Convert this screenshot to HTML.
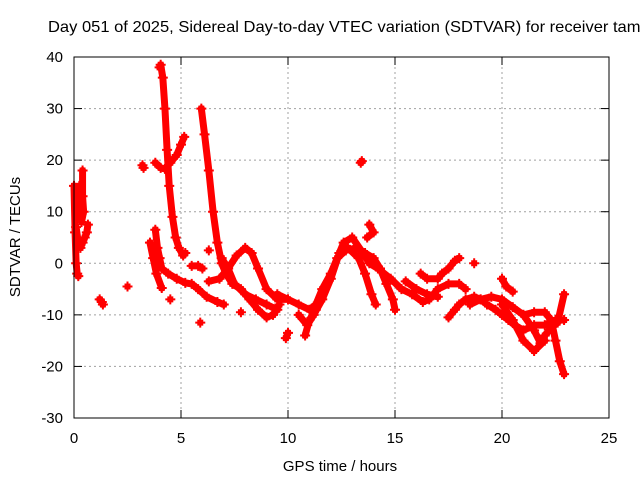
<!DOCTYPE html>
<html><head><meta charset="utf-8"><style>
body{margin:0;background:#fff}
svg{display:block;font-family:"Liberation Sans",sans-serif}
</style></head><body>
<svg id="chart" width="640" height="480" xmlns="http://www.w3.org/2000/svg">
<rect width="640" height="480" fill="#fff"/>
<text x="48" y="32" font-size="16" textLength="598" lengthAdjust="spacingAndGlyphs">Day 051 of 2025, Sidereal Day-to-day VTEC variation (SDTVAR) for receiver tamr</text>
<text x="340" y="471" text-anchor="middle" font-size="15">GPS time / hours</text>
<text transform="translate(20,237) rotate(-90)" text-anchor="middle" font-size="15">SDTVAR / TECUs</text>
<g id="grid"></g><g id="ticks"></g><g id="marks"></g>
<rect x="74" y="57" width="535" height="361" fill="none" stroke="#000" stroke-width="1"/>
</svg>
<script>
const xTicks=[0,5,10,15,20,25];
const yTicks=[40,30,20,10,0,-10,-20,-30];
const tracks=[
[[0,15],[0.05,6],[0.1,0],[0.15,-2],[0.2,-2.5]],
[[0.1,7],[0.2,4],[0.3,3],[0.4,4],[0.5,5],[0.6,6],[0.65,7.5]],
[[0.4,18],[0.4,13],[0.45,10],[0.35,8],[0.3,12],[0.25,15]],
[[1.2,-7],[1.3,-7.5],[1.35,-8]],
[[2.5,-4.5]],
[[3.2,19],[3.25,18.5]],
[[4.0,38],[4.05,38.5],[4.15,36],[4.25,30],[4.35,22],[4.45,15],[4.6,9],[4.75,5],[4.9,3],[5.1,1.5],[5.2,2]],
[[3.8,19.5],[4.05,18.5],[4.25,18.3],[4.5,19.5],[4.8,21],[5.0,23],[5.15,24.5]],
[[3.55,4],[3.7,1],[3.85,-2],[4.1,-4.8]],
[[3.8,6.5],[3.9,3],[4.0,1],[4.1,-1],[4.4,-2],[4.8,-3],[5.2,-3.8],[5.5,-4],[5.8,-5],[6.2,-6.5],[6.7,-7.5],[7.0,-8]],
[[4.5,-7]],
[[5.9,-11.5]],
[[5.95,30],[6.1,25],[6.3,18],[6.5,10],[6.7,4],[6.9,0],[7.1,-2],[7.4,-4],[7.8,-5],[8.2,-7],[8.6,-9],[9,-10.5],[9.3,-10],[9.6,-8]],
[[5.5,-0.5],[5.8,-0.5],[6.0,-1]],
[[6.3,-3.5],[6.8,-3],[7.2,-1],[7.6,1.5],[8,3],[8.3,2],[8.6,-1],[9,-5],[9.5,-7],[10,-7]],
[[6.9,1],[7.2,-1],[7.5,-4],[8,-6],[8.5,-7],[9,-8],[9.5,-9]],
[[7.8,-9.5]],[[6.3,2.5]],
[[9.9,-14.5],[10,-13.5]],
[[9.5,-6],[10,-7],[10.5,-8],[11,-9],[11.3,-8],[11.6,-5],[12,-2],[12.3,1],[12.7,2.5],[13.2,3],[13.6,2],[14,1],[14.3,-1],[14.6,-4],[14.9,-7],[15,-9]],
[[10.5,-10],[10.9,-12],[11.2,-10],[11.6,-7],[12,-3],[12.4,2],[12.6,4],[13,5],[13.5,2],[13.8,0],[14.2,-1],[14.8,-3],[15.3,-5],[15.8,-6],[16.3,-7.5],[16.6,-7],[17,-5],[17.5,-4],[18,-4],[18.3,-5]],
[[12.8,3],[13.3,1],[13.6,-2],[13.9,-6],[14.1,-8]],
[[10.8,-14],[11,-11],[11.3,-9]],
[[13.4,19.5],[13.45,19.8]],
[[13.8,7.5],[14,6],[13.7,5]],
[[16.2,-2],[16.5,-3],[17,-3],[17.2,-2],[17.5,-1],[17.8,0.5],[18,1]],
[[15.5,-3.5],[16,-5],[16.5,-6],[17,-6.5]],
[[18.7,0]],
[[17.5,-10.5],[17.8,-9],[18,-8],[18.3,-7],[18.7,-6.5],[19,-7],[19.3,-8],[19.7,-9],[20,-10],[20.3,-11],[20.6,-12],[21,-13],[21.5,-12],[22,-12],[22.5,-11],[22.9,-11]],
[[18.5,-8],[19,-7],[19.5,-6.5],[20,-7],[20.5,-8.5],[21,-10],[21.5,-13],[21.8,-15.5],[22,-14],[22.3,-12.5],[22.6,-11.5],[22.9,-6]],
[[21,-10],[21.5,-9.5],[22,-9.5],[22.3,-11],[22.5,-15],[22.7,-19],[22.9,-21.5]],
[[20,-3],[20.2,-4.5],[20.5,-5.5]],
[[20,-8],[20.5,-11],[21,-15],[21.5,-17],[22,-15]]
];
const NS="http://www.w3.org/2000/svg";
const xs=h=>74+h*535/25;
const ys=v=>57+(40-v)*361/70;
function mk(tag,attrs,parent){const e=document.createElementNS(NS,tag);for(const k in attrs)e.setAttribute(k,attrs[k]);parent.appendChild(e);return e;}
const grid=document.getElementById('grid'),ticks=document.getElementById('ticks'),marks=document.getElementById('marks');
xTicks.forEach(t=>{const x=xs(t);
 if(t>0&&t<25){const g=mk('line',{x1:x,y1:57,x2:x,y2:418,stroke:'#a0a0a0','stroke-dasharray':'2,3'},grid);
 
 }
 mk('line',{x1:x,y1:418,x2:x,y2:410,stroke:'#000'},ticks);mk('line',{x1:x,y1:57,x2:x,y2:65,stroke:'#000'},ticks);
 const l=mk('text',{x:x,y:443,'text-anchor':'middle','font-size':'15'},ticks);l.textContent=t;
 
 });
yTicks.forEach(t=>{const y=ys(t);
 if(t<40&&t>-30){const g=mk('line',{x1:74,y1:y,x2:609,y2:y,stroke:'#a0a0a0','stroke-dasharray':'2,3'},grid);
 
 }
 mk('line',{x1:74,y1:y,x2:82,y2:y,stroke:'#000'},ticks);mk('line',{x1:609,y1:y,x2:601,y2:y,stroke:'#000'},ticks);
 const l=mk('text',{x:63,y:y+5,'text-anchor':'end','font-size':'15'},ticks);l.textContent=t;
 
 });
tracks.forEach(tr=>{
 const pts=tr.map(p=>xs(p[0])+','+ys(p[1])).join(' ');
 const pl=mk('polyline',{points:pts,fill:'none',stroke:'#f00','stroke-width':'7','stroke-linejoin':'round','stroke-linecap':'round'},marks);
 
 
 tr.forEach(p=>{const x=xs(p[0]),y=ys(p[1]);
  const m=mk('path',{d:`M${x-5},${y}H${x+5}M${x},${y-5}V${y+5}M${x-3},${y-2}H${x+3}M${x-3},${y+2}H${x+3}`,stroke:'#f00','stroke-width':'2'},marks);
  
  });
});
</script>
</body></html>
